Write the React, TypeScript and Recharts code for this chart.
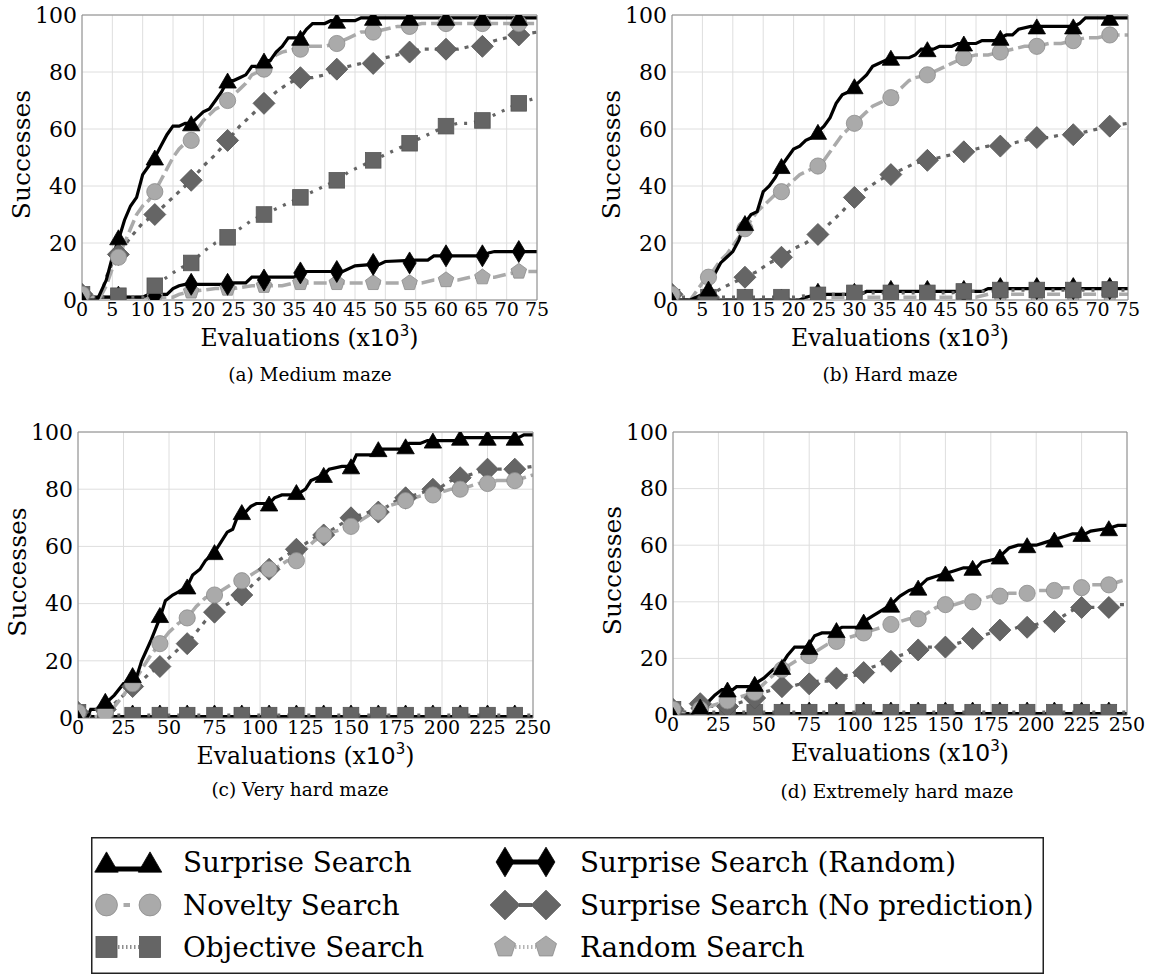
import React from 'react';
import { LineChart, Line, XAxis, YAxis, CartesianGrid, ReferenceLine } from 'recharts';

type Pt = [number, number];

// ---------- ticks / marker positions ----------
const xTicksShort = [0, 5, 10, 15, 20, 25, 30, 35, 40, 45, 50, 55, 60, 65, 70, 75];
const xTicksLong = [0, 25, 50, 75, 100, 125, 150, 175, 200, 225, 250];
const yTicks = [0, 20, 40, 60, 80, 100];
const markersShort = [0, 6, 12, 18, 24, 30, 36, 42, 48, 54, 60, 66, 72];
const markersLong = [0, 15, 30, 45, 60, 75, 90, 105, 120, 135, 150, 165, 180, 195, 210, 225, 240];

const seriesNames = ['Surprise Search', 'Novelty Search', 'Objective Search', 'Surprise Search (Random)', 'Surprise Search (No prediction)', 'Random Search'];
const captions = ['(a) Medium maze', '(b) Hard maze', '(c) Very hard maze', '(d) Extremely hard maze'];

// ---------- (a) Medium maze ----------
const medSurprise: Pt[] = [[0,0],[2.5,0],[4,7],[5,15],[6,21],[7,28],[8,33],[9,36],[10,44],[11,47],[12,50],[13,54],[14,58],[15,61],[16,61],[17,62],[18,62],[19,64],[20,66],[21,67],[22,70],[23,73],[24,77],[25,77],[26,78],[27,79],[28,82],[29,82],[30,84],[31,84],[32,87],[33,89],[34,92],[36,92],[37,95],[38,97],[40,97],[41,98],[45,98],[46,99],[75,99]];
const medNovelty: Pt[] = [[0,2],[1,1],[3,1],[4,5],[5,11],[6,15],[7,20],[8,25],[9,30],[10,33],[11,35],[12,38],[13,42],[14,46],[15,50],[16,53],[17,55],[18,56],[19,60],[20,63],[21,65],[22,67],[23,68],[24,70],[25,72],[26,74],[27,76],[28,79],[29,80],[30,81],[31,84],[32,86],[33,87],[35,88],[36,88],[37,89],[40,89],[42,90],[44,92],[46,94],[48,94],[50,95],[52,96],[54,96],[56,97],[75,97]];
const medObjective: Pt[] = [[0,2],[1,1],[10,1],[11,3],[12,5],[14,8],[16,11],[18,13],[20,17],[22,20],[24,22],[26,25],[28,28],[30,30],[32,32],[34,34],[36,36],[38,38],[40,40],[42,42],[44,45],[46,47],[48,49],[50,51],[52,53],[54,55],[56,57],[58,59],[60,61],[62,62],[64,62],[66,63],[68,65],[70,67],[72,69],[75,71]];
const medSSRandom: Pt[] = [[0,1],[10,1],[11,2],[14,2],[15,4],[16,5],[17,5.5],[24,5.5],[25,6],[27,6],[28,8],[35,8],[36,10],[43,10],[45,12],[48,12.5],[49,12.5],[50,13.5],[55,14],[57,14],[58,15.5],[66,15.5],[67,16.5],[68,17],[75,17]];
const medNoPred: Pt[] = [[0,2],[1,1],[3,1],[4,8],[5,13],[6,16],[8,22],[10,27],[12,30],[14,34],[16,38],[18,42],[20,47],[22,51],[24,56],[26,61],[28,65],[30,69],[32,73],[34,76],[36,78],[38,78],[40,79],[42,81],[44,82],[46,83],[48,83],[50,85],[52,86],[54,87],[56,88],[62,88],[64,89],[66,89],[68,91],[70,92],[72,93],[75,94]];
const medRandom: Pt[] = [[0,2],[1,1],[15,1],[16,2],[18,3],[22,4],[25,4],[28,5],[33,5],[35,6],[56,6],[58,7],[62,7],[64,8],[68,8],[70,9],[72,10],[75,10]];
const medSurpriseMk = [0, 22, 50, 62, 77, 84, 92, 98, 99, 99, 99, 99, 99];
const medNoveltyMk = [2, 15, 38, 56, 70, 81, 88, 90, 94, 96, 97, 97, 97];
const medObjectiveMk = [2, 1.5, 5, 13, 22, 30, 36, 42, 49, 55, 61, 63, 69];
const medSSRandomMk = [1, 1, 1.5, 5.5, 5.5, 7, 9.5, 10, 12.5, 13, 15.5, 15.5, 17];
const medNoPredMk = [2, 16, 30, 42, 56, 69, 78, 81, 83, 87, 88, 89, 93];
const medRandomMk = [2, 1, 1, 3, 4, 5, 6, 6, 6, 6, 7, 8, 10];

// ---------- (b) Hard maze ----------
const hardSurprise: Pt[] = [[0,0],[3,0],[4,1],[5,2],[6,4],[7,9],[8,13],[9,15],[10,17],[11,21],[12,27],[13,30],[14,31],[15,38],[16,40],[17,43],[18,47],[19,50],[20,53],[21,54],[22,56],[23,57],[24,59],[25,61],[26,64],[27,69],[28,72],[29,73],[30,75],[31,77],[32,79],[33,82],[34,83],[35,84],[36,85],[39,85],[40,86],[41,88],[43,88],[44,89],[46,89],[47,90],[50,90],[51,91],[53,91],[54,92],[55,93],[56,93],[57,95],[59,96],[66,96],[67,97],[68,99],[75,99]];
const hardNovelty: Pt[] = [[0,2],[1,0],[3,0],[4,3],[5,6],[6,8],[7,11],[8,14],[9,16],[10,19],[11,22],[12,25],[13,28],[14,31],[15,33],[16,35],[17,37],[18,38],[19,40],[20,42],[21,44],[22,45],[23,46],[24,47],[25,49],[26,52],[27,55],[28,58],[29,60],[30,62],[31,64],[32,66],[33,68],[34,69],[35,70],[36,71],[37,73],[38,75],[39,77],[40,78],[42,79],[44,81],[46,83],[48,85],[50,86],[52,86],[54,87],[56,88],[58,89],[60,89],[62,90],[64,90],[66,91],[68,92],[70,92],[72,93],[75,93]];
const hardObjective: Pt[] = [[0,1],[20,1],[24,2],[29,2],[30,2.5],[46,2.5],[48,3],[52,3],[54,3.5],[75,3.5]];
const hardSSRandom: Pt[] = [[0,0],[21,0],[22,1],[24,2],[31,2],[32,3],[51,3],[52,4],[75,4]];
const hardNoPred: Pt[] = [[0,2],[1,0],[5,0],[6,1],[8,4],[10,6],[12,8],[14,10],[16,13],[18,15],[20,18],[22,20],[24,23],[26,27],[28,31],[30,36],[32,39],[34,42],[36,44],[38,46],[40,48],[42,49],[44,50],[46,51],[48,52],[50,53],[52,54],[54,54],[56,55],[58,56],[60,57],[62,57],[64,58],[66,58],[68,59],[70,60],[72,61],[75,62]];
const hardRandom: Pt[] = [[0,2],[1,0],[22,0],[24,1],[50,1],[52,2],[75,2]];
const hardSurpriseMk = [0, 4, 27, 47, 59, 75, 85, 88, 90, 92, 96, 96, 99];
const hardNoveltyMk = [2, 8, 25, 38, 47, 62, 71, 79, 85, 87, 89, 91, 93];
const hardObjectiveMk = [1, 1, 1, 1, 1.8, 2.5, 2.5, 2.5, 3, 3.5, 3.5, 3.5, 3.7];
const hardSSRandomMk = [0, 0, 0, 0, 2, 2, 3, 3, 3, 4, 4, 4, 4];
const hardNoPredMk = [2, 1, 8, 15, 23, 36, 44, 49, 52, 54, 57, 58, 61];
const hardRandomMk = [2, 0, 0, 0, 1, 1, 1, 1, 1, 2, 2, 2, 2];

// ---------- (c) Very hard maze ----------
const vhSurprise: Pt[] = [[0,0],[5,0],[7,3],[12,3],[15,5],[20,8],[25,12],[30,12],[32,14],[35,20],[40,27],[45,35],[48,41],[52,43],[55,44],[60,46],[63,50],[67,52],[70,55],[75,58],[78,61],[82,65],[85,66],[88,71],[92,72],[95,74],[98,75],[105,75],[108,77],[112,78],[120,78],[125,80],[128,83],[135,85],[138,87],[145,88],[150,88],[153,92],[163,92],[165,94],[178,94],[182,96],[188,96],[192,97],[207,97],[210,98],[242,98],[245,99],[250,99]];
const vhNovelty: Pt[] = [[0,2],[3,1],[8,0],[12,1],[15,2],[20,4],[25,8],[30,12],[35,17],[40,22],[45,26],[50,30],[55,33],[60,35],[65,39],[70,42],[75,43],[80,45],[85,47],[90,48],[95,50],[100,52],[105,52],[110,53],[115,55],[120,55],[125,59],[130,62],[135,64],[140,65],[145,66],[150,67],[155,69],[160,71],[165,72],[170,74],[175,75],[180,76],[185,77],[190,78],[195,78],[200,79],[205,80],[210,80],[215,81],[220,82],[225,82],[230,83],[240,83],[245,84],[250,85]];
const vhObjective: Pt[] = [[0,2],[3,1],[250,1]];
const vhSSRandom: Pt[] = [[0,0.5],[250,0.5]];
const vhNoPred: Pt[] = [[0,2],[3,1],[8,1],[15,3],[20,5],[25,8],[30,11],[35,13],[40,16],[45,18],[50,21],[55,24],[60,26],[65,30],[70,34],[75,37],[80,39],[85,41],[90,43],[95,46],[100,49],[105,52],[110,55],[115,57],[120,59],[125,61],[130,63],[135,64],[140,66],[145,68],[150,70],[155,71],[160,72],[165,72],[170,74],[175,76],[180,77],[185,78],[190,79],[195,80],[200,81],[205,83],[210,84],[215,85],[220,86],[225,87],[240,87],[250,88]];
const vhRandom: Pt[] = [[0,0],[250,0]];
const vhSurpriseMk = [0, 6, 15, 36, 46, 58, 72, 75, 79, 85, 88, 94, 95, 97, 98, 98, 98];
const vhNoveltyMk = [2, 2, 12, 26, 35, 43, 48, 52, 55, 64, 67, 72, 76, 78, 80, 82, 83];
const vhObjectiveMk = [2, 1, 1, 1, 1, 1, 1, 1, 1, 1, 1, 1, 1, 1, 1, 1, 1];
const vhSSRandomMk = [0.7, 0.7, 0.7, 0.7, 0.7, 0.7, 0.7, 0.7, 0.7, 0.7, 0.7, 0.7, 0.7, 0.7, 0.7, 0.7, 0.7];
const vhNoPredMk = [2, 3, 11, 18, 26, 37, 43, 52, 59, 64, 70, 72, 77, 80, 84, 87, 87];
const vhRandomMk = [0, 0, 0, 0, 0, 0, 0, 0, 0, 0, 0, 0, 0, 0, 0, 0, 0];

// ---------- (d) Extremely hard maze ----------
const exSurprise: Pt[] = [[0,0],[10,0],[15,2],[18,3],[20,5],[23,7],[27,9],[33,9],[35,10],[43,10],[45,11],[50,13],[55,16],[60,18],[63,21],[67,24],[73,24],[75,25],[78,28],[82,29],[88,29],[90,30],[93,31],[102,31],[105,33],[110,35],[115,37],[120,39],[125,42],[130,44],[135,45],[140,48],[145,49],[150,50],[155,51],[160,52],[167,52],[170,54],[177,55],[180,56],[185,59],[190,60],[200,60],[205,61],[210,62],[215,63],[220,64],[227,64],[230,65],[240,66],[245,67],[250,67]];
const exNovelty: Pt[] = [[0,2],[3,1],[8,0],[12,1],[15,2],[20,3],[25,4],[30,5],[35,6],[40,7],[45,8],[50,11],[55,14],[60,16],[65,18],[70,20],[75,21],[80,23],[85,25],[90,26],[95,27],[100,28],[105,29],[110,30],[115,31],[120,32],[125,33],[130,34],[135,34],[140,36],[145,38],[150,39],[155,39],[160,40],[165,40],[170,41],[175,42],[180,42],[185,43],[195,43],[200,44],[210,44],[215,45],[225,45],[230,46],[240,46],[245,47],[250,48]];
const exObjective: Pt[] = [[0,2],[3,1],[250,1]];
const exSSRandom: Pt[] = [[0,0.5],[250,0.5]];
const exNoPred: Pt[] = [[0,2],[3,1],[8,1],[12,3],[15,4],[20,3],[30,3],[35,4],[40,5],[45,6],[50,8],[55,9],[60,10],[65,10],[70,11],[75,11],[80,12],[85,12],[90,13],[95,14],[100,14],[105,15],[110,17],[115,18],[120,19],[125,21],[130,22],[135,23],[140,24],[150,24],[155,25],[160,26],[165,27],[170,28],[175,29],[180,30],[185,30],[190,31],[195,31],[200,32],[205,33],[210,33],[215,35],[220,37],[225,38],[240,38],[245,39],[250,39]];
const exRandom: Pt[] = [[0,0],[250,0]];
const exSurpriseMk = [0, 3, 9, 11, 17, 24, 30, 33, 39, 45, 50, 52, 56, 60, 62, 64, 66];
const exNoveltyMk = [2, 2, 5, 8, 16, 21, 26, 29, 32, 34, 39, 40, 42, 43, 44, 45, 46];
const exObjectiveMk = [2, 1, 1, 1, 1, 1, 1, 1, 1, 1, 1, 1, 1, 1, 1, 1, 1];
const exSSRandomMk = [0.7, 0.7, 0.7, 0.7, 0.7, 0.7, 0.7, 0.7, 0.7, 0.7, 0.7, 0.7, 0.7, 0.7, 0.7, 0.7, 0.7];
const exNoPredMk = [2, 4, 3, 6, 10, 11, 13, 15, 19, 23, 24, 27, 30, 31, 33, 38, 38];
const exRandomMk = [0, 0, 0, 0, 0, 0, 0, 0, 0, 0, 0, 0, 0, 0, 0, 0, 0];

// ---------- styles ----------
const SERIF = "'DejaVu Serif', serif";
const SANS = "'DejaVu Sans', sans-serif";
const BLACK = '#000000';
const LIGHT = '#aaaaaa';
const DARK = '#656565';

type Key = 'surprise' | 'novelty' | 'objective' | 'ssRandom' | 'noPred' | 'random';

const shapeFns: Record<Key, (cx: number, cy: number, s: number) => React.ReactElement> = {
  surprise: (cx, cy, s) => (
    <polygon points={`${cx},${cy - 7.5 * s} ${cx - 8.7 * s},${cy + 7.5 * s} ${cx + 8.7 * s},${cy + 7.5 * s}`} fill={BLACK} stroke={BLACK} strokeWidth={0.8} />
  ),
  novelty: (cx, cy, s) => <circle cx={cx} cy={cy} r={8.1 * s} fill={LIGHT} stroke="#8c8c8c" strokeWidth={0.8} />,
  objective: (cx, cy, s) => (
    <rect x={cx - 7.8 * s} y={cy - 7.8 * s} width={15.6 * s} height={15.6 * s} fill={DARK} stroke="#555" strokeWidth={0.8} />
  ),
  ssRandom: (cx, cy, s) => (
    <polygon points={`${cx},${cy - 11 * s} ${cx + 6.6 * s},${cy} ${cx},${cy + 11 * s} ${cx - 6.6 * s},${cy}`} fill={BLACK} stroke={BLACK} strokeWidth={0.8} />
  ),
  noPred: (cx, cy, s) => (
    <polygon points={`${cx},${cy - 11 * s} ${cx + 11 * s},${cy} ${cx},${cy + 11 * s} ${cx - 11 * s},${cy}`} fill={DARK} stroke="#555" strokeWidth={0.8} />
  ),
  random: (cx, cy, s) => {
    const r = 8.2 * s;
    const pts = [0, 1, 2, 3, 4]
      .map((k) => {
        const a = ((-90 + 72 * k) * Math.PI) / 180;
        return `${cx + r * Math.cos(a)},${cy + r * Math.sin(a)}`;
      })
      .join(' ');
    return <polygon points={pts} fill={LIGHT} stroke="#8c8c8c" strokeWidth={0.8} />;
  },
};

const lineStyle: Record<Key, { stroke: string; width: number; dash?: string }> = {
  surprise: { stroke: BLACK, width: 3.2 },
  novelty: { stroke: LIGHT, width: 3.5, dash: '13 5' },
  objective: { stroke: DARK, width: 3.2, dash: '3 7' },
  ssRandom: { stroke: BLACK, width: 3.2 },
  noPred: { stroke: DARK, width: 3.2, dash: '4 6' },
  random: { stroke: LIGHT, width: 3.5, dash: '13 5' },
};

const drawOrder: Key[] = ['random', 'ssRandom', 'objective', 'noPred', 'novelty', 'surprise'];
const legendKeys: Key[] = ['surprise', 'novelty', 'objective', 'ssRandom', 'noPred', 'random'];

type Series = { line: Pt[]; marks: number[] };
type PanelCfg = {
  ox: number; oy: number; L: number; R: number; T: number; B: number;
  xMax: number; xTicks: number[]; markers: number[];
  series: Record<Key, Series>;
  caption: string; capX: number; capY: number;
};

const panels: PanelCfg[] = [
  { ox: 0, oy: 0, L: 82, R: 537, T: 15, B: 300, xMax: 75, xTicks: xTicksShort, markers: markersShort,
    series: {
      surprise: { line: medSurprise, marks: medSurpriseMk }, novelty: { line: medNovelty, marks: medNoveltyMk },
      objective: { line: medObjective, marks: medObjectiveMk }, ssRandom: { line: medSSRandom, marks: medSSRandomMk },
      noPred: { line: medNoPred, marks: medNoPredMk }, random: { line: medRandom, marks: medRandomMk } },
    caption: captions[0], capX: 310, capY: 375 },
  { ox: 576, oy: 0, L: 672, R: 1128, T: 15, B: 300, xMax: 75, xTicks: xTicksShort, markers: markersShort,
    series: {
      surprise: { line: hardSurprise, marks: hardSurpriseMk }, novelty: { line: hardNovelty, marks: hardNoveltyMk },
      objective: { line: hardObjective, marks: hardObjectiveMk }, ssRandom: { line: hardSSRandom, marks: hardSSRandomMk },
      noPred: { line: hardNoPred, marks: hardNoPredMk }, random: { line: hardRandom, marks: hardRandomMk } },
    caption: captions[1], capX: 890, capY: 375 },
  { ox: 0, oy: 400, L: 78, R: 533, T: 432, B: 718, xMax: 250, xTicks: xTicksLong, markers: markersLong,
    series: {
      surprise: { line: vhSurprise, marks: vhSurpriseMk }, novelty: { line: vhNovelty, marks: vhNoveltyMk },
      objective: { line: vhObjective, marks: vhObjectiveMk }, ssRandom: { line: vhSSRandom, marks: vhSSRandomMk },
      noPred: { line: vhNoPred, marks: vhNoPredMk }, random: { line: vhRandom, marks: vhRandomMk } },
    caption: captions[2], capX: 300, capY: 790 },
  { ox: 576, oy: 400, L: 673, R: 1127, T: 432, B: 715, xMax: 250, xTicks: xTicksLong, markers: markersLong,
    series: {
      surprise: { line: exSurprise, marks: exSurpriseMk }, novelty: { line: exNovelty, marks: exNoveltyMk },
      objective: { line: exObjective, marks: exObjectiveMk }, ssRandom: { line: exSSRandom, marks: exSSRandomMk },
      noPred: { line: exNoPred, marks: exNoPredMk }, random: { line: exRandom, marks: exRandomMk } },
    caption: captions[3], capX: 897, capY: 792 },
];

const XTitle = (props: any) => {
  const vb = props.viewBox || {};
  const cx = vb.x + vb.width / 2;
  return (
    <text x={cx} y={vb.y + 46} textAnchor="middle" style={{ fontFamily: SERIF, fontSize: 23.5 }} fill="#000">
      Evaluations (x<tspan style={{ fontFamily: SANS }}>10</tspan>
      <tspan dy={-10} style={{ fontFamily: SANS, fontSize: 15 }}>3</tspan>
      <tspan dy={10}>)</tspan>
    </text>
  );
};

const YTitle = (props: any) => {
  const vb = props.viewBox || {};
  const cx = vb.x + vb.width - 61;
  const cy = vb.y + vb.height / 2 - 3;
  return (
    <text x={cx} y={cy} transform={`rotate(-90 ${cx} ${cy})`} textAnchor="middle" dominantBaseline="central" style={{ fontFamily: SERIF, fontSize: 25 }} fill="#000">
      Successes
    </text>
  );
};

const makeDot = (key: Key) => (props: any) => {
  const { cx, cy, index } = props;
  if (cx == null || cy == null) return <g key={`n-${key}-${index}`} />;
  return <g key={`m-${key}-${index}`}>{shapeFns[key](cx, cy, 1)}</g>;
};

const W = 576;
const H = 400;
const YW = 60;
const XH = 80;

function Panel({ cfg }: { cfg: PanelCfg }) {
  const margin = {
    left: cfg.L - cfg.ox - YW,
    right: cfg.ox + W - cfg.R,
    top: cfg.T - cfg.oy,
    bottom: cfg.oy + H - cfg.B - XH,
  };
  return (
    <>
      <div style={{ position: 'absolute', left: cfg.ox, top: cfg.oy, width: W, height: H, fontFamily: SERIF }}>
        <LineChart width={W} height={H} margin={margin}>
          <CartesianGrid stroke="#dedede" strokeWidth={1} />
          <XAxis
            type="number"
            dataKey="x"
            domain={[0, cfg.xMax]}
            ticks={cfg.xTicks}
            interval={0}
            allowDataOverflow
            height={XH}
            tickLine={false}
            tickSize={0}
            tickMargin={3}
            axisLine={{ stroke: '#8a8a8a', strokeWidth: 1 }}
            tick={{ fontSize: 19, fill: '#000', style: { fontFamily: SERIF } }}
            label={<XTitle />}
          />
          <YAxis
            type="number"
            domain={[0, 100]}
            ticks={yTicks}
            interval={0}
            allowDataOverflow
            width={YW}
            tickLine={false}
            tickSize={0}
            tickMargin={5}
            axisLine={{ stroke: '#8a8a8a', strokeWidth: 1 }}
            tick={{ fontSize: 22, fill: '#000', style: { fontFamily: SERIF } }}
            label={<YTitle />}
          />
          {drawOrder.flatMap((k) => [
            <Line
              key={`${k}-line`}
              name={seriesNames[legendKeys.indexOf(k)]}
              data={cfg.series[k].line.map(([x, y]) => ({ x, y }))}
              dataKey="y"
              type="linear"
              stroke={lineStyle[k].stroke}
              strokeWidth={lineStyle[k].width}
              strokeDasharray={lineStyle[k].dash}
              dot={false}
              activeDot={false}
              isAnimationActive={false}
            />,
            <Line
              key={`${k}-marks`}
              name={`${seriesNames[legendKeys.indexOf(k)]} markers`}
              data={cfg.markers.map((x, i) => ({ x, y: cfg.series[k].marks[i] }))}
              dataKey="y"
              type="linear"
              stroke="none"
              dot={makeDot(k)}
              activeDot={false}
              isAnimationActive={false}
            />,
          ])}
          <ReferenceLine y={100} stroke="#8a8a8a" strokeWidth={1} />
          <ReferenceLine x={cfg.xMax} stroke="#8a8a8a" strokeWidth={1} />
        </LineChart>
      </div>
      <div
        style={{
          position: 'absolute', left: cfg.capX - 200, top: cfg.capY - 12, width: 400, height: 24,
          lineHeight: '24px', textAlign: 'center', fontFamily: SERIF, fontSize: 18.5, color: '#000',
        }}
      >
        {cfg.caption}
      </div>
    </>
  );
}

// legend connector segments (local x ranges) drawn between the two markers
const connectors: Record<Key, { x1: number; x2: number; dy: number; color: string; w: number; dash?: string }> = {
  surprise: { x1: 15.5, x2: 59, dy: 7, color: BLACK, w: 5 },
  novelty: { x1: 32.5, x2: 39, dy: 0, color: LIGHT, w: 4 },
  objective: { x1: 27, x2: 48, dy: 0, color: '#8f8f8f', w: 4, dash: '1.5 2.5' },
  ssRandom: { x1: 414, x2: 455, dy: 0, color: BLACK, w: 5 },
  noPred: { x1: 428, x2: 441, dy: 0, color: DARK, w: 4 },
  random: { x1: 424, x2: 445, dy: 0, color: '#b5b5b5', w: 4, dash: '1.5 2.5' },
};

function LegendBox() {
  const rows = [25, 68, 110];
  const cols = [
    { m1: 15.5, m2: 59, tx: 92 },
    { m1: 414, m2: 455, tx: 489 },
  ];
  const s = 1.35;
  return (
    <svg style={{ position: 'absolute', left: 91, top: 837, fontFamily: SERIF }} width={953} height={137}>
      <rect x={0.75} y={0.75} width={951.5} height={135.5} fill="#fff" stroke="#222" strokeWidth={1.5} />
      {legendKeys.map((k, i) => {
        const col = cols[Math.floor(i / 3)];
        const cy = rows[i % 3];
        const c = connectors[k];
        return (
          <g key={k}>
            <line x1={c.x1} x2={c.x2} y1={cy + c.dy} y2={cy + c.dy} stroke={c.color} strokeWidth={c.w} strokeDasharray={c.dash} />
            {shapeFns[k](col.m1, cy, s)}
            {shapeFns[k](col.m2, cy, s)}
            <text x={col.tx} y={cy + 10} style={{ fontFamily: SERIF, fontSize: 27.8 }} fill="#000">
              {seriesNames[i]}
            </text>
          </g>
        );
      })}
    </svg>
  );
}

export default function App() {
  return (
    <div style={{ position: 'absolute', left: 0, top: 0, width: 1152, height: 978, background: '#fff', fontFamily: SERIF }}>
      {panels.map((p, i) => (
        <Panel key={i} cfg={p} />
      ))}
      <LegendBox />
    </div>
  );
}
